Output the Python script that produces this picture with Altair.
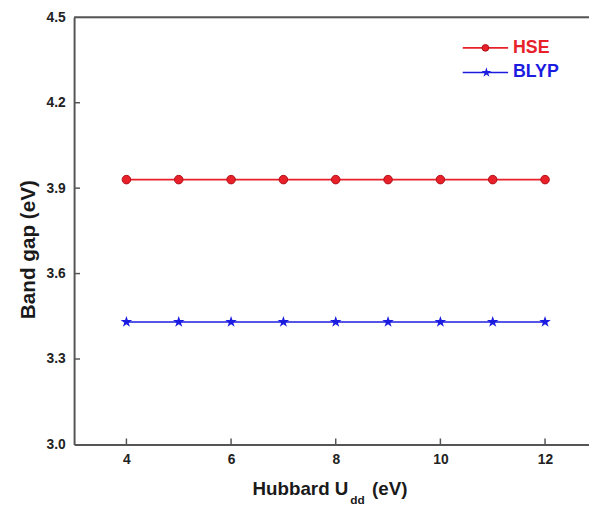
import altair as alt
import pandas as pd

u_values = [4, 5, 6, 7, 8, 9, 10, 11, 12]
hse_gap = [3.93, 3.93, 3.93, 3.93, 3.93, 3.93, 3.93, 3.93, 3.93]
blyp_gap = [3.43, 3.43, 3.43, 3.43, 3.43, 3.43, 3.43, 3.43, 3.43]
x_ticks = [4, 6, 8, 10, 12]
y_ticks = [3.0, 3.3, 3.6, 3.9, 4.2, 4.5]
series_names = ["HSE", "BLYP"]

RED = "#e8202a"
BLUE = "#1c1ce0"
AX = "#555555"
FONT = "Liberation Sans"
STAR = ("M0,-1L0.2245,-0.309L0.951,-0.309L0.3633,0.118L0.5878,0.809L0,0.382"
        "L-0.5878,0.809L-0.3633,0.118L-0.951,-0.309L-0.2245,-0.309Z")

hse_df = pd.DataFrame({"U": u_values, "gap": hse_gap})
blyp_df = pd.DataFrame({"U": u_values, "gap": blyp_gap})

xs = alt.Scale(domain=[3, 12.84], nice=False, zero=False)
ys = alt.Scale(domain=[3.0, 4.5], nice=False, zero=False)

x_axis = alt.Axis(
    orient="bottom", values=x_ticks, title=None, domain=True, domainColor=AX, domainWidth=2,
    ticks=False, grid=False, labelFont=FONT, labelFontSize=14, labelFontWeight="bold",
    labelColor="#222222", labelPadding=8, format="d")
y_axis = alt.Axis(
    orient="left", values=y_ticks, title="Band gap (eV)", domain=True, domainColor=AX, domainWidth=2,
    ticks=False, grid=False, labelFont=FONT, labelFontSize=14, labelFontWeight="bold",
    labelColor="#222222", labelPadding=9, format=".1f",
    titleFont=FONT, titleFontSize=21, titleFontWeight="bold", titleColor="#1a1a1a",
    titleX=-46, titleY=235, titleAngle=270, titleAlign="center", titleBaseline="middle")
x_enc = alt.X("U:Q", scale=xs, axis=x_axis)
y_enc = alt.Y("gap:Q", scale=ys, axis=y_axis)

hse_line = alt.Chart(hse_df).mark_line(color=RED, strokeWidth=1.6).encode(x=x_enc, y=y_enc)
hse_pts = alt.Chart(hse_df).mark_point(shape="circle", filled=True, fill=RED, size=75,
                                       stroke="#b01018", strokeWidth=1, opacity=1).encode(x=x_enc, y=y_enc)
blyp_line = alt.Chart(blyp_df).mark_line(color=BLUE, strokeWidth=1.6).encode(x=x_enc, y=y_enc)
blyp_pts = alt.Chart(blyp_df).mark_point(shape=STAR, filled=True, fill=BLUE, size=150,
                                         strokeWidth=0, opacity=1).encode(x=x_enc, y=y_enc)

# top frame line
top_line = alt.Chart(pd.DataFrame({"gap": [4.5]})).mark_rule(color=AX, strokeWidth=2).encode(
    y=y_enc, x=alt.value(0), x2=alt.value(522))

# inward ticks
xt = alt.Chart(pd.DataFrame({"U": x_ticks})).mark_rule(color=AX, strokeWidth=1.5).encode(
    x=x_enc, y=alt.value(427), y2=alt.value(433))
yt = alt.Chart(pd.DataFrame({"gap": y_ticks[1:-1]})).mark_rule(color=AX, strokeWidth=1.5).encode(
    y=y_enc, x=alt.value(0), x2=alt.value(6))

one = pd.DataFrame({"k": [0]})

# legend
leg_line_h = alt.Chart(one).mark_rule(color=RED, strokeWidth=1.6).encode(
    x=alt.value(394), x2=alt.value(440), y=alt.value(31))
leg_line_b = alt.Chart(one).mark_rule(color=BLUE, strokeWidth=1.6).encode(
    x=alt.value(394), x2=alt.value(440), y=alt.value(56))
leg_pt_h = alt.Chart(one).mark_point(
    shape="circle", filled=True, fill=RED, size=45, stroke="#b01018", strokeWidth=1, opacity=1
).encode(x=alt.value(417), y=alt.value(31))
leg_pt_b = alt.Chart(one).mark_point(
    shape=STAR, filled=True, fill=BLUE, size=110, strokeWidth=0, opacity=1
).encode(x=alt.value(418), y=alt.value(56))
leg_txt_h = alt.Chart(one).mark_text(
    align="left", baseline="middle", font=FONT, fontSize=18, fontWeight="bold", color=RED,
    text=series_names[0]).encode(x=alt.value(445), y=alt.value(31))
leg_txt_b = alt.Chart(one).mark_text(
    align="left", baseline="middle", font=FONT, fontSize=18, fontWeight="bold", color=BLUE,
    text=series_names[1]).encode(x=alt.value(445), y=alt.value(56))

# x title with subscript
t1 = alt.Chart(one).mark_text(
    align="right", baseline="middle", font=FONT, fontSize=19, fontWeight="bold", color="#1a1a1a",
    text="Hubbard U").encode(x=alt.value(278), y=alt.value(478))
t2 = alt.Chart(one).mark_text(
    align="left", baseline="middle", font=FONT, fontSize=12, fontWeight="bold", color="#1a1a1a",
    text="dd").encode(x=alt.value(280), y=alt.value(489))
t3 = alt.Chart(one).mark_text(
    align="left", baseline="middle", font=FONT, fontSize=19, fontWeight="bold", color="#1a1a1a",
    text="(eV)").encode(x=alt.value(302), y=alt.value(478))

chart = alt.layer(
    hse_line, hse_pts, blyp_line, blyp_pts, top_line, xt, yt,
    leg_line_h, leg_line_b, leg_pt_h, leg_pt_b, leg_txt_h, leg_txt_b, t1, t2, t3
).properties(
    width=522, height=433,
    autosize=alt.AutoSizeParams(type="none"),
    padding={"left": 67, "top": 6, "right": 0, "bottom": 60},
).configure_view(stroke=None).configure(background="white")

chart.save("out.html", embed_options={"renderer": "svg", "actions": False})
